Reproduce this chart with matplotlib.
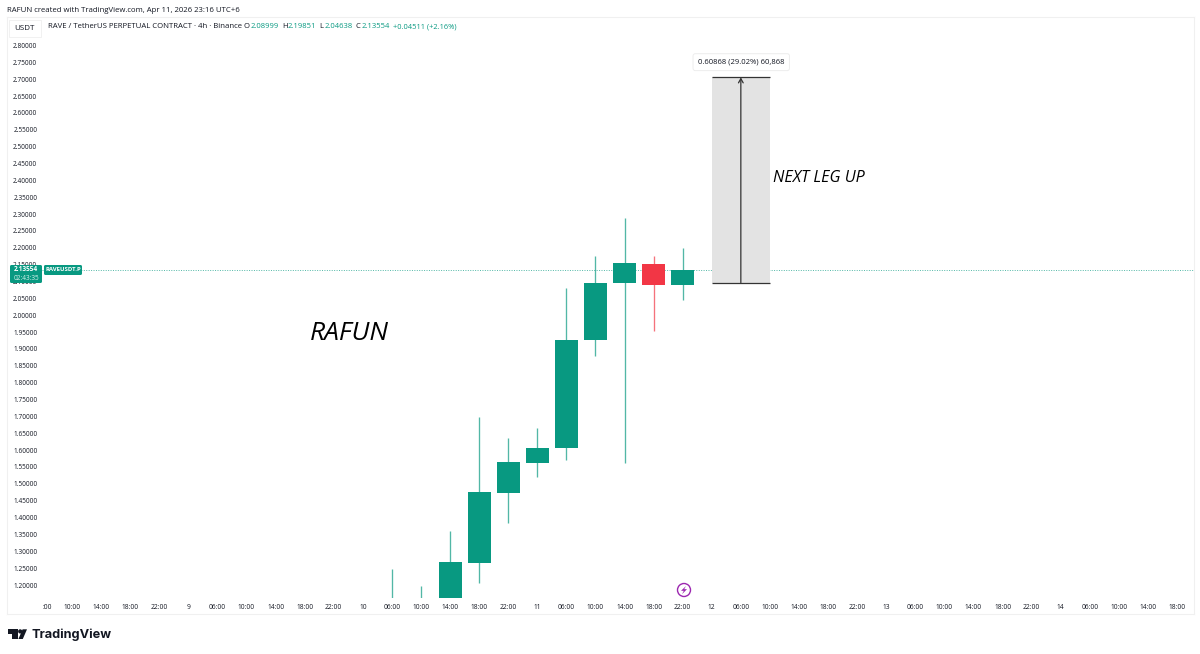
import matplotlib
matplotlib.use("Agg")
import matplotlib.pyplot as plt
from matplotlib.patches import Rectangle, Polygon, Circle, FancyBboxPatch
from matplotlib.transforms import Affine2D

# ---- data ----
bar_index = [12, 13, 14, 15, 16, 17, 18, 19, 20, 21, 22]
opens  = [1.10, 1.15, 1.15, 1.266, 1.474, 1.563, 1.605, 1.928, 2.096, 2.152, 2.08999]
closes = [1.10, 1.15, 1.267, 1.475, 1.564, 1.606, 1.928, 2.097, 2.154, 2.090, 2.13554]
highs  = [1.2475, 1.196, 1.36, 1.699, 1.636, 1.667, 2.08, 2.176, 2.289, 2.176, 2.19851]
lows   = [1.05, 1.05, 1.10, 1.206, 1.385, 1.521, 1.572, 1.879, 1.563, 1.953, 2.04638]
last_price = 2.13554
measure_low, measure_high = 2.0966, 2.7053
measure_start, measure_end = 23, 25
price_ticks = [1.20, 1.25, 1.30, 1.35, 1.40, 1.45, 1.50, 1.55, 1.60, 1.65, 1.70,
               1.75, 1.80, 1.85, 1.90, 1.95, 2.00, 2.05, 2.10, 2.15, 2.20, 2.25,
               2.30, 2.35, 2.40, 2.45, 2.50, 2.55, 2.60, 2.65, 2.70, 2.75, 2.80]
time_labels = [":00", "10:00", "14:00", "18:00", "22:00", "9",
               "06:00", "10:00", "14:00", "18:00", "22:00", "10",
               "06:00", "10:00", "14:00", "18:00", "22:00", "11",
               "06:00", "10:00", "14:00", "18:00", "22:00", "12",
               "06:00", "10:00", "14:00", "18:00", "22:00", "13",
               "06:00", "10:00", "14:00", "18:00", "22:00", "14",
               "06:00", "10:00", "14:00", "18:00"]

UP, DOWN = "#089981", "#F23645"
W, H = 1200, 654
FONT = "Open Sans"
plt.rcParams["font.family"] = FONT

fig = plt.figure(figsize=(W / 100, H / 100), dpi=100, facecolor="white")
L, R, T, B = 42, 1194, 17, 598
ax = fig.add_axes([L / W, 1 - B / H, (R - L) / W, (B - T) / H])
ax.set_xlim(1 + (L - 72) / 29.08, 1 + (R - 72) / 29.08)
ax.set_ylim(2.8 - (B - 45.5) / 337.2, 2.8 + (45.5 - T) / 337.2)
for s in ax.spines.values():
    s.set_visible(False)
ax.patch.set_alpha(0)

# pixel-space transform for furniture
px = Affine2D().scale(1 / W, -1 / H).translate(0, 1) + fig.transFigure

def ftext(x, y, s, **kw):
    kw.setdefault("va", "center")
    kw.setdefault("fontsize", 4.8)
    kw.setdefault("color", "#131722")
    return fig.text(x, y, s, transform=px, **kw)

# candles
for i, o, c, h, l in zip(bar_index, opens, closes, highs, lows):
    col = UP if c >= o else DOWN
    ax.vlines(i, l, h, color=col, lw=0.95, alpha=0.7, zorder=2)
    ax.bar(i, abs(c - o), bottom=min(o, c), width=0.79, color=col, zorder=3)

# last price line
ax.axhline(last_price, color=UP, lw=0.7, ls=(0, (1, 1.5)), alpha=0.7, zorder=1)

# measure tool
ax.add_patch(Rectangle((measure_start, measure_low), measure_end - measure_start,
                       measure_high - measure_low, color="#E3E3E3", lw=0, zorder=1.5))
ax.hlines([measure_low, measure_high], measure_start, measure_end, color="#333333", lw=0.9, zorder=4)
mid = (measure_start + measure_end) / 2
ax.annotate("", xy=(mid, measure_high), xytext=(mid, measure_low), zorder=4,
            arrowprops=dict(arrowstyle="->,head_length=0.3,head_width=0.17", color="#333333",
                            lw=0.9, shrinkA=0, shrinkB=0))
ax.annotate("0.60868 (29.02%) 60,868", xy=(mid, measure_high), xytext=(0.3, 11), textcoords="offset points",
            ha="center", va="center", fontsize=5.5, color="#131722", zorder=6,
            bbox=dict(boxstyle="round,pad=0.65,rounding_size=0.3", fc="white", ec="#EDEDED", lw=0.7))

# axes ticks
ax.set_yticks(price_ticks)
ax.set_yticklabels([f"{p:.5f}" for p in price_ticks], fontsize=4.7, color="#131722")
ax.set_xticks([0.15] + list(range(1, len(time_labels))))
ax.set_xticklabels(time_labels, fontsize=4.8, color="#131722")
ax.tick_params(axis="y", length=0, pad=3.4)
ax.tick_params(axis="x", length=0, pad=4.2)

# pane border
for xs, ys in [([7, 7], [17, 614]), ([7, 1194], [17, 17]), ([7, 1194], [614, 614]), ([1194, 1194], [17, 614])]:
    fig.add_artist(plt.Line2D(xs, ys, transform=px, color="#F0F0F0", lw=0.8))

# header
ftext(7, 10, "RAFUN created with TradingView.com, Apr 11, 2026 23:16 UTC+6", fontsize=5.55)
fig.add_artist(Rectangle((9, 20), 32, 17, transform=px, fc="white", ec="#EFEFEF", lw=0.6))
ftext(24.5, 29, "USDT", ha="center", fontsize=5.8)
ftext(48, 27, "RAVE / TetherUS PERPETUAL CONTRACT \u00b7 4h \u00b7 Binance", fontsize=5.55)
for x, lab, vx, val in [(244, "O", 250.5, "2.08999"), (282, "H", 288, "2.19851"),
                        (319.5, "L", 324.5, "2.04638"), (355.5, "C", 361.5, "2.13554")]:
    ftext(x, 27, lab, fontsize=5.5)
    ftext(vx, 27, val, fontsize=5.5, color=UP)
ftext(393, 27, "+0.04511 (+2.16%)", fontsize=5.45, color=UP)

# price tags
fig.add_artist(FancyBboxPatch((10, 265), 32, 18, transform=px, boxstyle="round,pad=0,rounding_size=1.5",
                              fc=UP, ec="none", zorder=5))
fig.add_artist(FancyBboxPatch((44, 265), 38, 10, transform=px, boxstyle="round,pad=0,rounding_size=1.5",
                              fc=UP, ec="none", zorder=5))
ftext(26, 269.5, "2.13554", ha="center", color="white", fontweight="bold", zorder=6, fontsize=4.7)
ftext(26, 278, "02:43:35", ha="center", color="#D5F0EA", zorder=6, fontsize=4.7)
ftext(63, 269.5, "RAVEUSDT.P", ha="center", color="white", fontweight="bold", zorder=6, fontsize=4.3)

# drawn texts
ftext(310, 333.5, "RAFUN", fontsize=19, style="italic", color="black")
ftext(773, 177.5, "NEXT LEG UP", fontsize=11.6, style="italic", color="black")

# event icon
fig.add_artist(Circle((684, 590), 6.5, transform=px, fc="white", ec="#9C27B0", lw=1.0))
fig.add_artist(Polygon([(686, 586), (681, 590.8), (683.8, 590.8), (682, 594.2), (687, 589.2), (684.2, 589.2)],
                       transform=px, fc="#9C27B0", ec="none"))

# logo
fig.add_artist(Polygon([(8, 629.3), (17.5, 629.3), (17.5, 639), (12.3, 639), (12.3, 633.8), (8, 633.8)],
                       transform=px, fc="#131722", ec="none", zorder=5))
fig.add_artist(Circle((20.2, 631.4), 2.1, transform=px, fc="#131722", ec="none", zorder=5))
fig.add_artist(Polygon([(22.6, 629.3), (27, 629.3), (22.8, 639), (18.4, 639)],
                       transform=px, fc="#131722", ec="none", zorder=5))
ftext(32, 634.3, "TradingView", fontsize=9.2, fontweight="bold", family="Inter", color="#131722")

fig.savefig("out.png", dpi=100, facecolor="white")
